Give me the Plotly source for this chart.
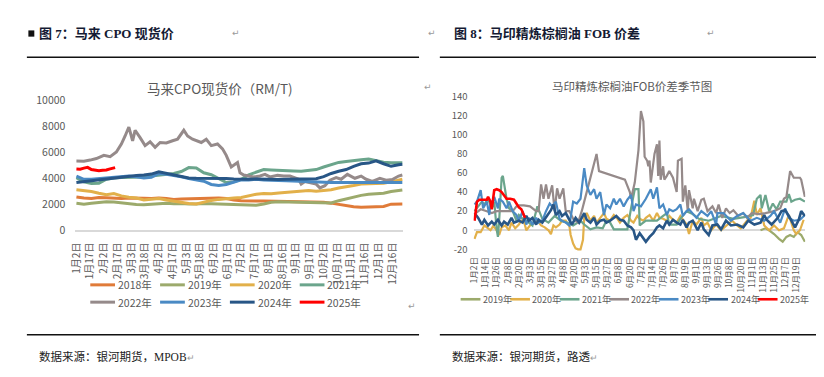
import plotly.graph_objects as go

W, H = 824, 377
def px(x): return x / W
def py(y): return 1 - y / H

FONT = "Noto Sans CJK SC, Noto Sans, sans-serif"
GRAY_TXT = "#595959"

COLORS = {
    "2018年": "#E07B39", "2019年": "#9CAA6C", "2020年": "#E2B04A", "2021年": "#6BA58C",
    "2022年": "#958A8A", "2023年": "#4A8AC4", "2024年": "#285686", "2025年": "#FF0000",
}

# ---------------- Left chart: 马来CPO现货价 (RM/T) ----------------
CPO_TICKS = ["1月2日", "1月17日", "2月2日", "2月17日", "3月3日", "3月18日", "4月2日", "4月17日",
             "5月3日", "5月18日", "6月2日", "6月17日", "7月2日", "7月17日", "8月1日", "8月16日",
             "9月1日", "9月17日", "10月2日", "10月17日", "11月1日", "11月16日", "12月1日", "12月16日"]
CPO_Y_TICKS = [0, 2000, 4000, 6000, 8000, 10000]
CPO_X = [0, 6, 12, 18, 24, 30, 36, 42, 48, 54, 60, 66, 72, 78, 84, 90, 96, 102, 108, 114,
         120, 126, 132, 138, 144, 150, 156, 162, 168, 174, 180, 186, 192, 198, 204, 210, 216,
         222, 228, 234, 240, 246, 252, 258, 261]
CPO_2018 = [2540, 2450, 2420, 2500, 2470, 2450, 2420, 2460, 2470, 2430, 2420, 2450, 2420, 2350, 2380,
            2400, 2420, 2450, 2470, 2460, 2420, 2300, 2250, 2220, 2230, 2220, 2210, 2220, 2200, 2200,
            2180, 2170, 2170, 2130, 2060, 1950, 1870, 1790, 1740, 1760, 1780, 1800, 1980, 1990, 1990]
CPO_2019 = [2050, 1980, 2050, 2120, 2170, 2150, 2080, 2020, 1950, 1930, 1980, 2040, 2060, 2010, 2040,
            2000, 1990, 2040, 2020, 1980, 1960, 1930, 1900, 1880, 1900, 2000, 2120, 2170, 2160, 2150,
            2120, 2130, 2110, 2120, 2080, 2250, 2400, 2540, 2660, 2740, 2780, 2820, 2960, 3040, 3080]
CPO_2020 = [3100, 3020, 2960, 2820, 2700, 2800, 2620, 2520, 2450, 2300, 2380, 2420, 2300, 2220, 2100,
            2040, 2000, 2150, 2270, 2350, 2420, 2450, 2500, 2650, 2750, 2800, 2780, 2850, 2900, 2920,
            3000, 3040, 2980, 3030, 3100, 3230, 3300, 3420, 3530, 3550, 3560, 3600, 3700, 3850, 3900]
CPO_2021 = [4030, 3700, 3580, 3600, 3900, 4000, 4030, 4050, 4030, 4080, 4150, 4200, 4250, 4350, 4500,
            4800, 4780, 4400, 4250, 3980, 3650, 3700, 3900, 4250, 4450, 4650, 4620, 4580, 4560, 4540,
            4520, 4580, 4650, 4850, 5050, 5200, 5280, 5320, 5400, 5460, 5350, 5220, 5180, 5150, 5180]
CPO_2023 = [4150, 3900, 3900, 3950, 4050, 4100, 4120, 4150, 4100, 4000, 4050, 4350, 4280, 4200, 4100,
            3950, 3850, 3750, 3500, 3420, 3500, 3700, 3850, 3850, 3900, 3850, 3800, 3800, 3780, 3750,
            3720, 3720, 3700, 3680, 3650, 3650, 3650, 3650, 3650, 3640, 3650, 3650, 3650, 3650, 3650]
CPO_2024 = [3650, 3720, 3830, 3900, 3980, 4050, 4100, 4150, 4200, 4230, 4300, 4480, 4350, 4200, 4080,
            4000, 3980, 3980, 3990, 3980, 3960, 3920, 3900, 3900, 3920, 3900, 3900, 3880, 3900, 3910,
            3900, 3950, 3950, 4100, 4350, 4520, 4650, 4900, 5100, 5150, 5330, 5100, 4900, 5020, 5060]
CPO_2022_X = [0, 6, 11, 16, 22, 27, 32, 36, 39, 42, 45, 47, 51, 55, 59, 63, 67, 72, 77, 81,
              86, 89, 93, 100, 104, 108, 113, 117, 120, 124, 129, 131, 134, 138, 142, 147, 151, 155, 161, 166,
              171, 178, 180, 183, 187, 192, 195, 199, 203, 208, 212, 217, 223, 228, 232, 237, 243, 248, 253, 258, 261]
CPO_2022 = [5310, 5300, 5380, 5500, 5750, 5650, 6000, 6620, 7240, 7930, 6870, 7680, 7110, 6500, 6790,
            6370, 6740, 6700, 6870, 6990, 7680, 7240, 6990, 6740, 6990, 6500, 6620, 6250, 5750, 4850,
            5200, 4400, 4230, 4150, 4080, 4150, 4280, 4080, 4200, 4150, 4150, 3900, 3530, 3730, 3650,
            3530, 3240, 3410, 3830, 4030, 3900, 4280, 3980, 4150, 3900, 3730, 3980, 3830, 3880, 4150, 4230]
CPO_2025_X = [0, 3, 6, 9, 12, 15, 18, 21, 24, 27, 30, 31]
CPO_2025 = [4700, 4680, 4760, 4820, 4650, 4580, 4560, 4600, 4620, 4700, 4780, 4800]

# ---------------- Right chart: 马印精炼棕榈油FOB价差季节图 ----------------
FOB_TICKS = ["1月2日", "1月14日", "1月26日", "2月8日", "2月20日", "3月3日", "3月15日", "3月27日",
             "4月8日", "4月20日", "5月3日", "5月15日", "5月27日", "6月8日", "6月20日", "7月2日",
             "7月14日", "7月26日", "8月7日", "8月19日", "9月1日", "9月13日", "9月26日", "10月8日",
             "10月20日", "11月1日", "11月13日", "11月25日", "12月7日", "12月19日"]
FOB_Y_TICKS = [-20, 0, 20, 40, 60, 80, 100, 120, 140]
FOB_2019_X = [232, 236, 239, 243, 247, 250, 253, 256, 259, 262, 265, 268]
FOB_2019 = [0, 2, 0, -4, -9, -12, -7, -5, -7, -2, -5, -12]
FOB_2020_X = [0, 2, 5, 8, 10, 13, 15, 17, 20, 22, 25, 28, 30, 33, 36, 38, 40, 42, 45, 48,
              51, 54, 57, 60, 62, 64, 66, 69, 71, 74, 77, 78, 80, 82, 84, 86, 88, 89, 91, 94,
              97, 99, 102, 105, 107, 110, 113, 116, 118, 121, 124, 127, 129, 132, 134, 137, 139, 142, 145, 148,
              150, 153, 156, 158, 161, 164, 167, 170, 172, 174, 177, 180, 184, 186, 189, 192, 196, 200, 205, 209,
              213, 216, 218, 221, 224, 227, 229, 232, 235, 239, 243, 247, 251, 255, 259, 261, 264, 267]
FOB_2020 = [-9, -2, -2, 5, 3, 0, 4, 2, -5, 3, 5, 0, 8, 2, 6, 10, 10, 0, 5, 8,
            10, 5, 3, 0, -4, 5, 3, 6, 10, 10, 4, -5, -14, -19, -20, -20, -10, 13, 18, 10,
            15, 8, 13, 18, 12, 10, 16, 12, 8, 13, 16, 10, 8, 15, 12, 10, 13, 16, 10, 18,
            13, 12, 10, 15, 11, 8, 15, 10, 6, -4, 10, 6, 13, 5, 8, 0, 6, 0, 6, 10,
            5, 2, 5, 10, 13, 31, 16, 23, 5, 0, 5, 0, 2, 16, 0, -4, 0, 11]
FOB_2021_X = [0, 3, 6, 8, 11, 14, 16, 18, 19, 20, 22, 23, 24, 26, 28, 31, 34, 36, 39, 42,
              47, 51, 55, 60, 65, 70, 75, 80, 86, 89, 94, 99, 104, 107, 110, 113, 118, 124, 127, 130,
              133, 134, 139, 148, 153, 156, 158, 164, 167, 172, 177, 182, 190, 200, 210, 220, 226, 229, 232, 233,
              236, 239, 242, 245, 248, 251, 253, 255, 257, 260, 264, 268]
FOB_2021 = [20, 25, 30, 27, 33, 23, 30, 1, -7, 10, 55, 57, 47, 33, 23, 20, 10, 16, 12, 10,
            5, 25, 12, 8, 15, 10, 8, 5, 10, 6, 1, 3, 2, 10, 8, 1, 1, 1, 23, 43,
            43, 5, 10, 10, 15, 18, 6, 6, 12, 20, 17, 12, 10, 15, 12, 14, 16, 33, 37, 23,
            37, 20, 28, 22, 30, 30, 30, 38, 30, 32, 33, 30]
FOB_2022_X = [1, 5, 10, 14, 18, 22, 26, 31, 34, 36, 40, 45, 50, 52, 54, 56, 58, 60, 63, 65,
              67, 69, 72, 74, 77, 80, 84, 87, 90, 93, 96, 99, 101, 122, 126, 127, 130, 133, 135, 137,
              138, 140, 141, 142, 143, 146, 148, 149, 150, 151, 153, 154, 156, 158, 161, 164, 165, 168, 169, 171,
              173, 174, 177, 178, 181, 184, 186, 189, 193, 196, 198, 201, 204, 207, 210, 214, 218, 221, 225, 231,
              236, 243, 248, 251, 253, 256, 259, 264, 265, 268]
FOB_2022 = [18, 22, 20, 18, 20, 20, 20, 20, 25, 26, 26, 25, 20, 20, 48, 33, 48, 33, 47, 20,
            44, 33, 44, 20, 20, 12, 8, 20, 35, 50, 65, 80, 62, 53, 40, 33, 50, 84, 125, 114,
            77, 73, 67, 73, 50, 80, 90, 57, 94, 53, 67, 53, 57, 62, 55, 40, 73, 75, 30, 47,
            20, 42, 23, 33, 20, 32, 33, 20, 25, 18, 27, 13, 23, 18, 21, 15, 18, 13, 18, 17,
            18, 20, 23, 33, 35, 62, 55, 55, 53, 35]
FOB_2023_X = [0, 2, 5, 7, 10, 12, 13, 14, 16, 19, 20, 23, 26, 28, 31, 34, 36, 39, 42, 44,
              47, 50, 52, 55, 58, 61, 63, 66, 69, 71, 74, 77, 80, 83, 86, 89, 91, 94, 97, 99,
              102, 105, 107, 110, 113, 115, 118, 121, 124, 127, 129, 131, 135, 139, 143, 145, 148, 150, 153, 156,
              158, 161, 164, 167, 169, 172, 174, 177, 180, 184, 189, 192, 196, 197, 202, 208, 213, 218, 224, 229,
              235, 240, 243, 248, 252, 255, 259, 264, 268]
FOB_2023 = [27, 30, 42, 23, 30, 16, 30, 27, 35, 23, 33, 30, 23, 30, 20, 16, 10, 20, 6, 13,
            6, 13, 8, 10, 20, 28, 25, 30, 12, 10, 8, 5, 30, 28, 33, 65, 47, 37, 43, 33,
            40, 16, 27, 23, 33, 27, 33, 25, 32, 37, 20, 27, 25, 33, 43, 33, 45, 23, 27, 16,
            22, 20, 22, 27, 15, 20, 22, 18, 13, 20, 15, 20, 6, 18, 18, 10, 15, 18, 10, 13,
            10, 15, 20, 8, 23, 13, 10, 11, 16]
FOB_2024_X = [0, 3, 6, 8, 11, 14, 16, 19, 22, 24, 27, 30, 32, 36, 39, 42, 44, 47, 50, 52,
              55, 59, 62, 64, 66, 69, 71, 74, 77, 79, 82, 85, 89, 91, 94, 97, 99, 102, 105, 107,
              110, 113, 115, 118, 121, 124, 127, 129, 131, 134, 137, 139, 142, 145, 148, 150, 153, 156, 158, 161,
              164, 167, 169, 172, 174, 177, 181, 184, 186, 190, 193, 197, 200, 204, 208, 213, 218, 222, 227, 232,
              235, 237, 241, 246, 249, 252, 255, 257, 260, 263, 265, 268]
FOB_2024 = [18, 13, 6, 11, 5, 9, 6, 11, 5, 9, 6, 13, 8, 10, 8, 15, 10, 13, 6, 11,
            8, 16, 21, 27, 16, 20, 15, 18, 11, 6, 13, 8, 18, 11, 8, 13, 6, 10, 11, 8,
            10, 13, 15, 11, 10, 5, 3, 0, -10, -3, -9, -12, -7, -3, 3, 5, 2, 10, 6, 11,
            8, 6, 11, 3, 8, 10, 0, 8, 1, -5, 5, 6, 1, 10, 5, 6, 3, 10, 6, 8,
            16, 11, 6, 13, 20, 21, 15, 10, 3, 11, 20, 15]
FOB_2025_X = [0, 1, 2, 4, 7, 10, 11, 12, 13, 14, 15, 16, 18, 20, 22, 24, 26, 29, 32, 34, 36, 38, 40, 41]
FOB_2025 = [10, 20, 30, 32, 32, 32, 35, 33, 30, 22, 35, 42, 43, 42, 40, 37, 33, 33, 32, 28, 24, 22, 15, 13]

fig = go.Figure()

left_series = [
    ("2018年", CPO_X, CPO_2018), ("2019年", CPO_X, CPO_2019), ("2020年", CPO_X, CPO_2020),
    ("2021年", CPO_X, CPO_2021), ("2022年", CPO_2022_X, CPO_2022), ("2023年", CPO_X, CPO_2023),
    ("2024年", CPO_X, CPO_2024), ("2025年", CPO_2025_X, CPO_2025),
]
for name, xs, ys in left_series:
    fig.add_trace(go.Scatter(x=xs, y=ys, mode="lines", name=name, xaxis="x", yaxis="y",
                             line=dict(color=COLORS[name], width=3), showlegend=False))

right_series = [
    ("2019年", FOB_2019_X, FOB_2019), ("2020年", FOB_2020_X, FOB_2020), ("2021年", FOB_2021_X, FOB_2021),
    ("2022年", FOB_2022_X, FOB_2022), ("2023年", FOB_2023_X, FOB_2023), ("2024年", FOB_2024_X, FOB_2024),
    ("2025年", FOB_2025_X, FOB_2025),
]
for name, xs, ys in right_series:
    w = 2.6 if name in ("2024年", "2025年") else 2.2
    fig.add_trace(go.Scatter(x=xs, y=ys, mode="lines", name=name, xaxis="x2", yaxis="y2",
                             line=dict(color=COLORS[name], width=w), showlegend=False))

axis_font = dict(family=FONT, color=GRAY_TXT)
fig.update_layout(
    width=W, height=H, margin=dict(l=0, r=0, t=0, b=0),
    paper_bgcolor="white", plot_bgcolor="white", showlegend=False,
    font=dict(family=FONT, color=GRAY_TXT),
    xaxis=dict(domain=[px(60), px(391)], range=[-0.8, 261.7], tickmode="array",
               tickvals=[i * 11 for i in range(len(CPO_TICKS))], ticktext=CPO_TICKS,
               tickangle=-90, tickfont=dict(size=10, **axis_font), showgrid=False, zeroline=False,
               showline=True, linecolor="#D9D9D9", linewidth=1.5, ticks="", ticklabelstandoff=7,
               fixedrange=True),
    yaxis=dict(domain=[py(222.7), py(87.7)], range=[0, 10000], tickmode="array",
               tickvals=CPO_Y_TICKS, ticktext=[str(v) for v in CPO_Y_TICKS],
               tickfont=dict(size=10.5, **axis_font), showgrid=False, zeroline=False, showline=False,
               ticks="", ticklabelstandoff=9, fixedrange=True),
    xaxis2=dict(domain=[px(462), px(797)], range=[-0.8, 268.3], tickmode="array",
                tickvals=[i * 9 for i in range(len(FOB_TICKS))], ticktext=FOB_TICKS,
                tickangle=-90, tickfont=dict(size=8.5, **axis_font), showgrid=False, zeroline=False,
                showline=False, ticks="", ticklabelstandoff=3, anchor="y2", fixedrange=True),
    yaxis2=dict(domain=[py(245), py(82)], range=[-22, 142], tickmode="array",
                tickvals=FOB_Y_TICKS, ticktext=[str(v) for v in FOB_Y_TICKS],
                tickfont=dict(size=9.5, **axis_font), showgrid=False, zeroline=True,
                zerolinecolor="#D9D9D9", zerolinewidth=1.5, showline=False, ticks="",
                ticklabelstandoff=5, anchor="x2", fixedrange=True),
)

shapes = []
annotations = []

def text(x, y, s, size, color, anchor="left", family=FONT):
    annotations.append(dict(x=px(x), y=py(y), xref="paper", yref="paper", text=s, showarrow=False,
                            xanchor=anchor, yanchor="middle", font=dict(size=size, color=color, family=family)))

def hline(x0, x1, y, color, width):
    shapes.append(dict(type="line", xref="paper", yref="paper", x0=px(x0), x1=px(x1), y0=py(y), y1=py(y),
                       line=dict(color=color, width=width)))

HEAD_FONT = "Liberation Serif, Noto Sans CJK SC, serif"
# header square
shapes.append(dict(type="rect", xref="paper", yref="paper", x0=px(12.5), x1=px(18.5), y0=py(21.5), y1=py(15),
                   fillcolor="#111111", line=dict(width=0)))
text(21, 18, "<b>图 7：马来 CPO 现货价</b>", 13, "#141a33", family=HEAD_FONT)
text(440, 18, "<b>图 8：马印精炼棕榈油 FOB 价差</b>", 13, "#141a33", family=HEAD_FONT)
for x, y in [(222, 18), (420, 18), (702, 18), (416, 74), (400, 302), (813, 302)]:
    text(x, y, "↵", 9, "#9a9a9a", anchor="center", family="DejaVu Sans")
hline(11, 407, 43, "#111111", 1.5)
hline(428, 824, 43, "#111111", 1.5)
hline(11, 407, 332, "#111111", 1.5)
hline(428, 824, 332, "#111111", 1.5)
text(21, 355, "数据来源：银河期货，MPOB<span style='color:#9a9a9a;font-size:9px'>↵</span>", 11.5, "#222222",
     family=HEAD_FONT)
text(438, 355, "数据来源：银河期货，路透<span style='color:#9a9a9a;font-size:9px'>↵</span>", 11.5, "#222222",
     family=HEAD_FONT)

# chart titles
text(206, 75, "马来CPO现货价（RM/T)", 13.5, GRAY_TXT, anchor="center")
text(622, 73, "马印精炼棕榈油FOB价差季节图", 11.5, GRAY_TXT, anchor="center")

# left legend (two rows)
for i, (name, _, _) in enumerate(left_series):
    row, col = divmod(i, 4)
    x0 = 75 + col * 70.5
    y0 = 280 + row * 18
    hline(x0, x0 + 25, y0, COLORS[name], 3)
    text(x0 + 26, y0, name, 10.5, GRAY_TXT)

# right legend (one row)
for i, (name, _, _) in enumerate(right_series):
    x0 = 449 + i * 50
    hline(x0, x0 + 20, 295, COLORS[name], 2.6)
    text(x0 + 20.5, 295, name, 9, GRAY_TXT)

fig.update_layout(shapes=shapes, annotations=annotations)
fig.write_html("out.html")
